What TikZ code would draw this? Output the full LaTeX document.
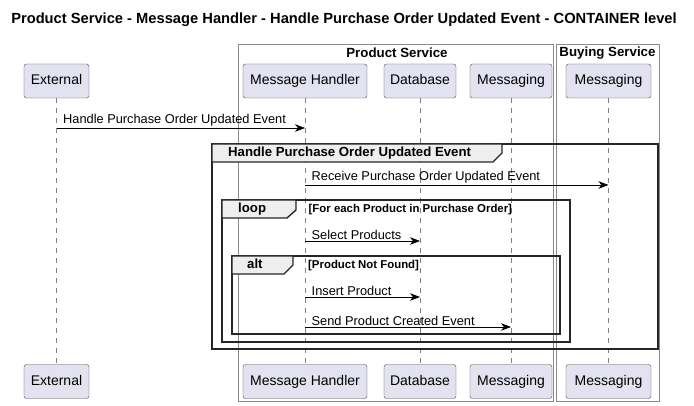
\documentclass[tikz,border=0pt]{standalone}
\usepackage{fontspec}
\setmainfont{Liberation Sans}
\usetikzlibrary{arrows.meta}
\definecolor{partfill}{HTML}{E2E2F0}
\definecolor{partline}{HTML}{4A4A4A}
\definecolor{tabfill}{HTML}{EEEEEE}
\definecolor{boxline}{HTML}{8A8A8A}
\begin{document}
\begin{tikzpicture}[x=1pt, y=-1pt, >={Stealth[length=10pt, width=7.5pt, inset=3pt]},
    part/.style={draw=partline, fill=partfill, rounded corners=2.5pt, minimum height=34pt,
        inner sep=0pt, text height=10pt, text depth=3pt, font=\fontsize{14}{16}\selectfont},
    life/.style={draw=gray, dash pattern=on 5pt off 5pt, line width=0.5pt},
    msg/.style={->, line width=0.8pt},
    lbl/.style={above right, inner sep=1.5pt, font=\fontsize{12.8}{14}\selectfont},
    cond/.style={right, inner sep=0pt, font=\bfseries\fontsize{11.4}{13}\selectfont},
    frame/.style={draw=black!85, line width=1.4pt},
    tab/.style={draw=black!85, fill=tabfill, line width=1.4pt},
    tablbl/.style={right, inner sep=0pt, text height=9.5pt, text depth=2.5pt,
        font=\bfseries\fontsize{13.2}{15}\selectfont}]
    \useasboundingbox (0,0) rectangle (694,406);

    % title
    \node[font=\bfseries\fontsize{14.7}{17}\selectfont] (title) at (344,20)
        {Product Service - Message Handler - Handle Purchase Order Updated Event - CONTAINER level};

    % boxes of the services
    \draw[boxline, line width=0.8pt] (238,44) rectangle (553,401);
    \draw[boxline, line width=0.8pt] (556,44) rectangle (659,401);
    \node[font=\bfseries\fontsize{13.3}{15}\selectfont] (ps) at (397,53) {Product Service};
    \node[font=\bfseries\fontsize{13.3}{15}\selectfont] (bs) at (607.5,53) {Buying Service};

    % participants, top and bottom
    \foreach \n/\x/\w/\t in {ext/56.5/65/External, mh/305/124/Message Handler,
            db/420/72/Database, msg/511/82/Messaging, bmsg/608.5/85/Messaging} {
        \node[part, minimum width=\w] (\n) at (\x,81) {\t};
        \node[part, minimum width=\w] (\n2) at (\x,381.5) {\t};
        \draw[life] (\n.south) -- (\n2.north);
    }

    % rows of the messages
    \coordinate (r1) at (0,128);
    \coordinate (r2) at (0,185);
    \coordinate (r3) at (0,241);
    \coordinate (r4) at (0,297);
    \coordinate (r5) at (0,327);

    \draw[msg] (ext |- r1) -- (mh |- r1);
    \node[lbl] at ([xshift=5pt]ext |- r1) {Handle Purchase Order Updated Event};

    % group frame
    \draw[frame] (212,144) rectangle (658,349);
    \draw[tab] (212,144) -- (502,144) -- (502,153) -- (493,162) -- (212,162) -- cycle;
    \node[tablbl] (g) at (228,153.5) {Handle Purchase Order Updated Event};

    \draw[msg] (mh |- r2) -- (bmsg |- r2);
    \node[lbl] at ([xshift=5pt]mh |- r2) {Receive Purchase Order Updated Event};

    % loop
    \draw[frame] (222,200) rectangle (570,342);
    \draw[tab] (222,200) -- (296,200) -- (296,210) -- (287,218) -- (222,218) -- cycle;
    \node[tablbl] (lp) at (238,209.5) {loop};
    \node[cond] (lpc) at (308.5,210) {[For each Product in Purchase Order]};

    \draw[msg] (mh |- r3) -- (db |- r3);
    \node[lbl] at ([xshift=5pt]mh |- r3) {Select Products};

    % alt
    \draw[frame] (232,256) rectangle (560,334);
    \draw[tab] (232,256) -- (293,256) -- (293,265) -- (284,274) -- (232,274) -- cycle;
    \node[tablbl] (al) at (247,265) {alt};
    \node[cond] (alc) at (308,266) {[Product Not Found]};

    \draw[msg] (mh |- r4) -- (db |- r4);
    \node[lbl] at ([xshift=5pt]mh |- r4) {Insert Product};
    \draw[msg] (mh |- r5) -- (msg |- r5);
    \node[lbl] at ([xshift=5pt]mh |- r5) {Send Product Created Event};
\end{tikzpicture}
\end{document}
